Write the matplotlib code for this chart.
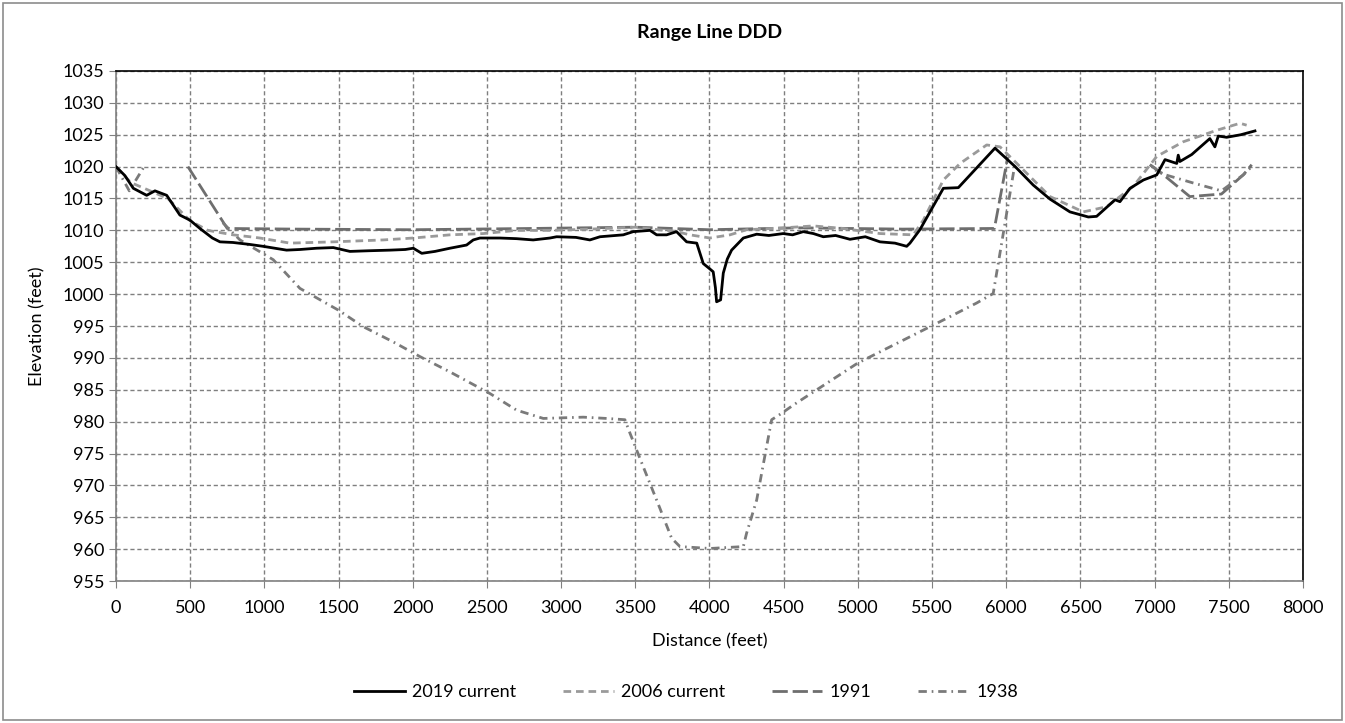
import matplotlib.pyplot as plt
import matplotlib.patches as mpatches

nan = float('nan')

plt.rcParams['font.family'] = ['Lato', 'DejaVu Sans']
plt.rcParams['lines.scale_dashes'] = False

# Survey profiles: distance along range line (feet) and elevation (feet).
# nan marks stretches the older surveys did not cover.
dist_2019 = [0, 60, 117, 207, 263, 342, 431, 499, 566, 650, 701, 789, 900, 991, 1150, 1240,
             1352, 1465, 1577, 1700, 1847, 1950, 2004, 2061, 2150, 2251, 2363, 2408, 2453,
             2588, 2700, 2812, 2925, 2970, 3100, 3194, 3262, 3419, 3486, 3599, 3644, 3711,
             3778, 3846, 3914, 3958, 4000, 4025, 4040, 4048, 4075, 4093, 4120, 4149, 4228,
             4318, 4400, 4497, 4560, 4632, 4700, 4767, 4850, 4947, 5050, 5149, 5250, 5329,
             5351, 5418, 5576, 5677, 5924, 6060, 6182, 6295, 6429, 6553, 6609, 6733, 6766,
             6834, 6924, 7014, 7070, 7149, 7159, 7170, 7250, 7372, 7406, 7429, 7485, 7580,
             7676]
elev_2019 = [1020.0, 1018.6, 1016.6, 1015.5, 1016.2, 1015.5, 1012.4, 1011.6, 1010.3, 1008.8,
             1008.2, 1008.1, 1007.8, 1007.5, 1006.9, 1007.0, 1007.2, 1007.3, 1006.7, 1006.8,
             1006.9, 1007.0, 1007.2, 1006.4, 1006.7, 1007.2, 1007.7, 1008.5, 1008.8, 1008.8,
             1008.7, 1008.5, 1008.8, 1009.0, 1008.9, 1008.5, 1009.0, 1009.3, 1009.8, 1010.0,
             1009.3, 1009.3, 1009.8, 1008.2, 1008.0, 1004.8, 1004.0, 1003.5, 1001.0, 998.8,
             999.1, 1003.3, 1005.5, 1006.9, 1008.8, 1009.4, 1009.2, 1009.5, 1009.3, 1009.8,
             1009.5, 1009.0, 1009.2, 1008.6, 1009.0, 1008.2, 1008.0, 1007.5, 1008.0, 1010.1,
             1016.6, 1016.7, 1022.9, 1020.0, 1017.1, 1014.9, 1012.9, 1012.1, 1012.2, 1014.8,
             1014.5, 1016.6, 1017.9, 1018.7, 1021.1, 1020.5, 1021.8, 1020.8, 1021.9, 1024.4,
             1023.1, 1024.8, 1024.6, 1025.0, 1025.6]

dist_2006 = [0, 100, 200, 350, 500, 620, 789, 903, 970, 1173, 1465, 1801, 2004, 2251, 2476,
             2700, 2925, 3200, 3500, 3778, 3868, 4003, 4138, 4250, 4500, 4700, 4900, 5149,
             5373, 5441, 5576, 5689, 5868, 5958, 6093, 6295, 6519, 6676, 6856, 7014, 7193,
             7418, 7575, 7620]
elev_2006 = [1020.0, 1017.5, 1016.5, 1015.0, 1011.5, 1010.0, 1009.3, 1009.0, 1008.8, 1008.0,
             1008.2, 1008.5, 1008.8, 1009.3, 1009.5, 1010.0, 1010.0, 1010.2, 1010.5, 1009.8,
             1009.3, 1008.8, 1009.3, 1010.1, 1010.4, 1010.7, 1010.3, 1009.5, 1009.3, 1011.6,
             1017.9, 1020.5, 1023.4, 1023.1, 1020.0, 1015.3, 1012.9, 1013.7, 1016.9, 1021.6,
             1023.9, 1025.7, 1026.8, 1026.5]

dist_1991 = [485, 750, 1200, 2000, 2800, 3500, 4000, 4600, 5300, 5920, 6010, 6030,
             6968, 7060, 7237, 7450, 7597, 7654]
elev_1991 = [1020.0, 1010.3, 1010.2, 1010.1, 1010.3, 1010.5, 1010.1, 1010.4, 1010.2, 1010.3,
             1021.5, nan, 1020.3, 1018.7, 1015.3, 1015.7, 1018.7, 1020.3]

dist_1938 = [0, 90, 190, 400, 720, 836, 1060, 1240, 1498, 1666, 1869, 2049, 2251, 2521, 2700,
             2880, 3149, 3307, 3430, 3464, 3554, 3666, 3745, 3801, 4003, 4228, 4250, 4318,
             4385, 4419, 4486, 4565, 5000, 5598, 5800, 5912, 6059, 6500, 6968, 7060, 7250,
             7450, 7597, 7654]
elev_1938 = [1020.0, 1016.2, 1020.0, nan, 1011.2, 1008.5, 1005.4, 1000.9, 997.5, 994.9,
             992.5, 990.2, 987.8, 984.4, 981.8, 980.5, 980.7, 980.5, 980.3, 978.2, 972.9,
             966.4, 961.7, 960.4, 960.1, 960.4, 962.5, 967.7, 976.1, 980.3, 981.3, 982.6,
             989.2, 996.2, 998.6, 1000.1, 1020.5, nan, 1020.3, 1018.8, 1017.5, 1016.2,
             1018.7, 1020.0]

x_ticks = list(range(0, 8001, 500))
y_ticks = list(range(955, 1036, 5))

fig = plt.figure(figsize=(13.45, 7.23), dpi=100)
ax = fig.add_axes([0.0862, 0.1964, 0.8826, 0.7054])

# thin border round the whole chart area
fig.patches.append(mpatches.Rectangle((0.002, 0.004), 0.996, 0.992, transform=fig.transFigure,
                                      fill=False, edgecolor='#8c8c8c', linewidth=1.2))

ax.plot(dist_2019, elev_2019, color='black', linewidth=2.0, label='2019 current', zorder=5)
ax.plot(dist_2006, elev_2006, color='#9a9a9a', linewidth=2.0, dashes=(5.5, 3.5),
        label='2006 current', zorder=4)
ax.plot(dist_1991, elev_1991, color='#6e6e6e', linewidth=2.0, dashes=(11, 3.5),
        label='1991', zorder=3)
ax.plot(dist_1938, elev_1938, color='#7a7a7a', linewidth=2.0, dashes=(6, 3.5, 1.2, 3.5),
        label='1938', zorder=3)

ax.set_xlim(0, 8000)
ax.set_ylim(955, 1035)
ax.set_xticks(x_ticks)
ax.set_yticks(y_ticks)
ax.tick_params(axis='both', direction='out', length=5, color='#808080', labelsize=13,
               labelcolor='black')
ax.tick_params(axis='x', pad=9)

ax.grid(True, color='#7f7f7f', linestyle=(0, (3, 2)), linewidth=1.0)
ax.set_axisbelow(True)

for side in ('top', 'right'):
    ax.spines[side].set_color('black')
    ax.spines[side].set_linewidth(1.2)
for side in ('left', 'bottom'):
    ax.spines[side].set_color('#808080')
    ax.spines[side].set_linewidth(1.2)

ax.set_title('Range Line DDD', fontsize=14, fontweight='bold', pad=24)
ax.set_xlabel('Distance (feet)', fontsize=13, labelpad=12)
ax.set_ylabel('Elevation (feet)', fontsize=13, labelpad=12)

fig.legend(loc='center', bbox_to_anchor=(0.51, 0.043), ncol=4, frameon=False,
           fontsize=13, handlelength=2.8, columnspacing=2.6, handletextpad=0.4)

fig.savefig('out.png', dpi=100, facecolor='white')
